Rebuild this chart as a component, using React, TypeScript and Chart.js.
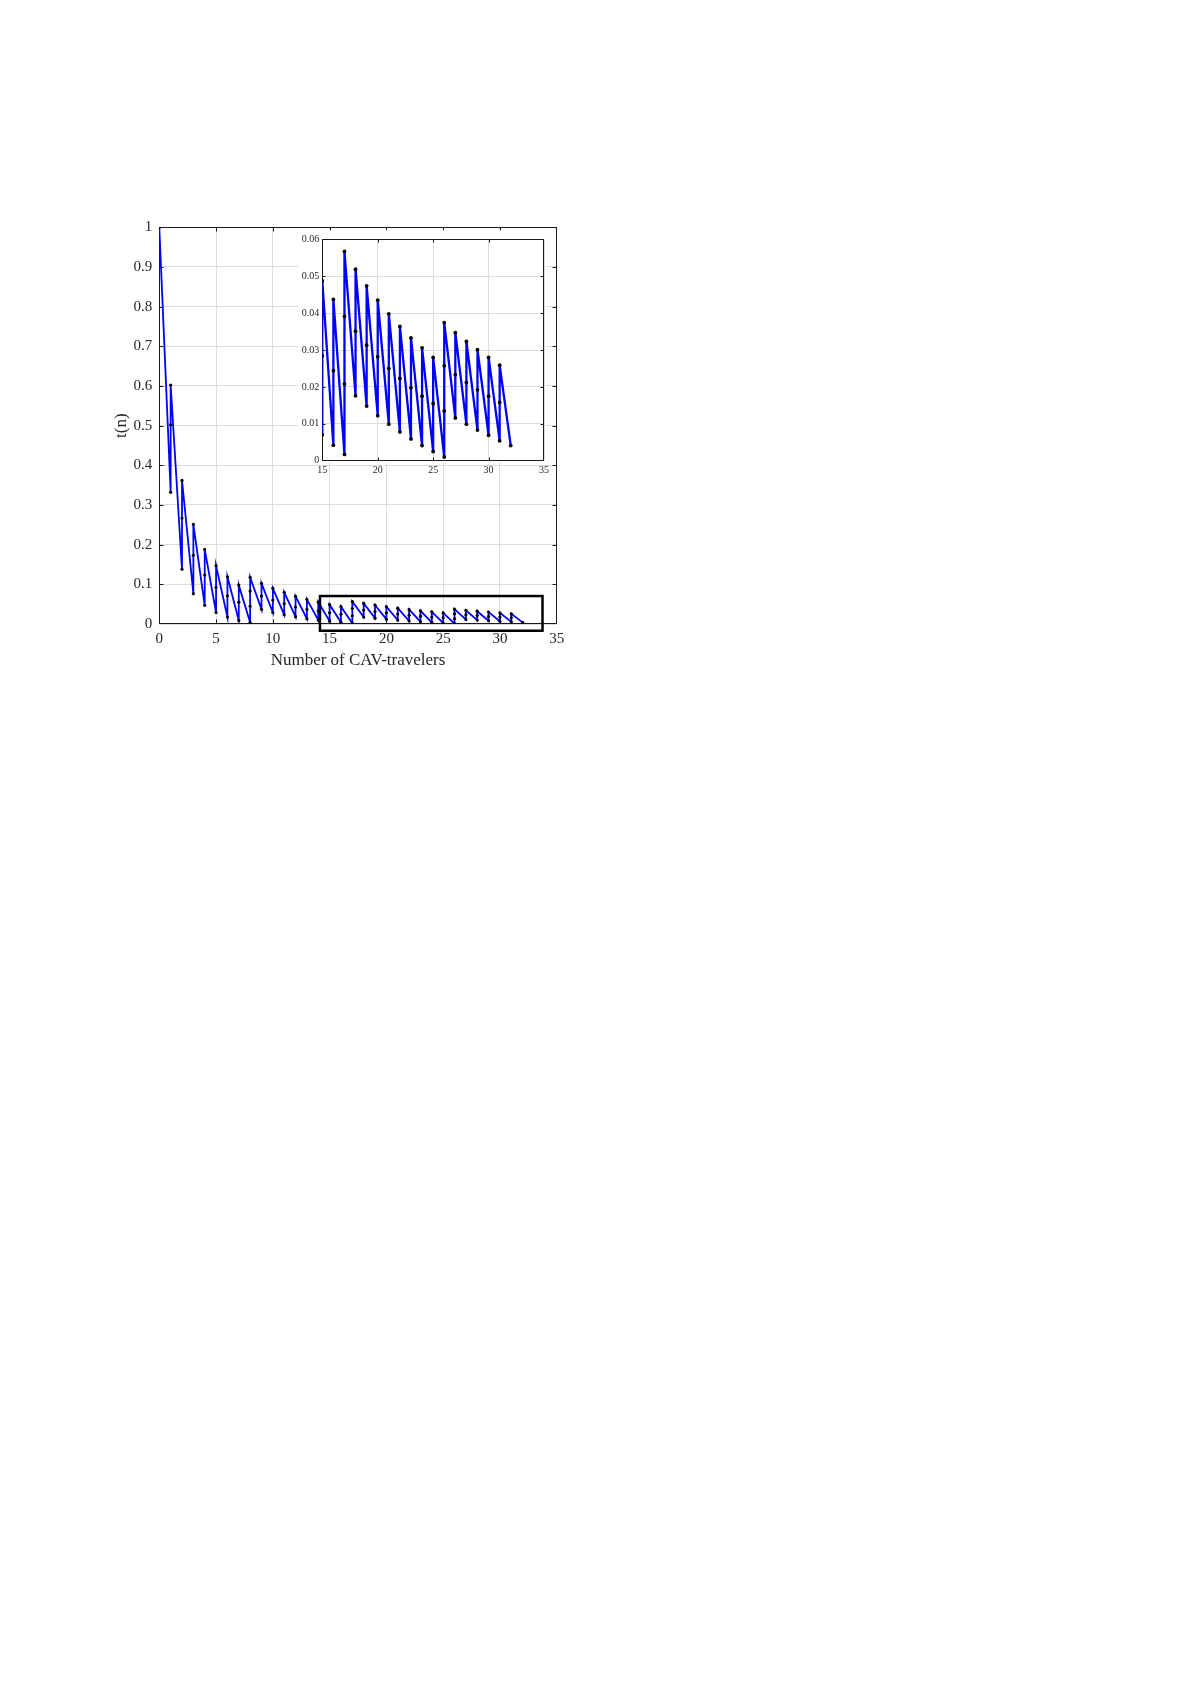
import React, { useEffect, useRef } from "react";
import { Chart, registerables } from "chart.js";

Chart.register(...registerables);

// each point of the step curve: n (number of CAV-travelers) and t(n)
const stepN = [
  0,
  1, 1, 1,
  2, 2, 2,
  3, 3, 3,
  4, 4, 4,
  5, 5, 5,
  6, 6, 6,
  7, 7, 7,
  8, 8, 8, 8,
  9, 9, 9,
  10, 10, 10,
  11, 11, 11,
  12, 12, 12,
  13, 13, 13,
  14, 14, 14,
  15, 15, 15,
  16, 16, 16,
  17, 17, 17, 17,
  18, 18, 18,
  19, 19, 19,
  20, 20, 20,
  21, 21, 21,
  22, 22, 22,
  23, 23, 23,
  24, 24, 24,
  25, 25, 25,
  26, 26, 26, 26,
  27, 27, 27,
  28, 28, 28,
  29, 29, 29,
  30, 30, 30,
  31, 31, 31,
  32,
];

const stepT = [
  1.0,
  0.332, 0.502, 0.6025,
  0.138, 0.267, 0.362,
  0.0765, 0.173, 0.251,
  0.047, 0.1235, 0.188,
  0.029, 0.0924, 0.147,
  0.0176, 0.071, 0.119,
  0.009, 0.055, 0.098,
  0.004, 0.045, 0.083, 0.1176,
  0.037, 0.0706, 0.1025,
  0.029, 0.0605, 0.09,
  0.0235, 0.0513, 0.08,
  0.0185, 0.0429, 0.0697,
  0.0134, 0.037, 0.062,
  0.01, 0.0325, 0.0553,
  0.007, 0.0284, 0.0487,
  0.0042, 0.0244, 0.0437,
  0.0017, 0.0208, 0.0391, 0.0567,
  0.0176, 0.0351, 0.0519,
  0.0148, 0.0313, 0.0474,
  0.0122, 0.0282, 0.0435,
  0.0099, 0.025, 0.0398,
  0.0078, 0.0223, 0.0364,
  0.0059, 0.0198, 0.0333,
  0.0041, 0.0175, 0.0306,
  0.0025, 0.0155, 0.028,
  0.001, 0.0135, 0.0257, 0.0374,
  0.0116, 0.0233, 0.0347,
  0.0099, 0.0212, 0.0323,
  0.0083, 0.0192, 0.0301,
  0.0069, 0.0175, 0.028,
  0.0054, 0.0158, 0.0259,
  0.0041,
];

// axis ranges [min, max, step]
const mainX = [0, 35, 5];
const mainY = [0, 1, 0.1];
const insetX = [15, 35, 5];
const insetY = [0, 0.06, 0.01];

// zoom box drawn on the main chart (data units)
const boxX = [14.15, 33.75];
const boxY = [-0.017, 0.0705];

const SERIF = "'Liberation Serif', 'Times New Roman', serif";
const TEXT = "#262626";
const GRID = "#dcdcdc";

const points = stepN.map((n, i) => ({ x: n, y: stepT[i] }));

const fmt = (v: any) => String(Number(Number(v).toFixed(3)));

// box around plot area plus inward tick marks, like matlab
const framePlugin = (tickLen: number) => ({
  id: "frame",
  beforeDatasetsDraw(chart: any) {
    const { ctx, chartArea: a, scales } = chart;
    const L = Math.round(a.left) + 0.5;
    const R = Math.round(a.right) - 0.5;
    const T = Math.round(a.top) + 0.5;
    const B = Math.round(a.bottom) - 0.5;
    const snapX = (v: number) => Math.min(R, Math.max(L, Math.round(v) + 0.5));
    const snapY = (v: number) => Math.min(B, Math.max(T, Math.round(v) + 0.5));
    ctx.save();
    ctx.strokeStyle = "#1a1a1a";
    ctx.lineWidth = 1;
    ctx.beginPath();
    scales.x.ticks.forEach((t: any) => {
      const px = snapX(scales.x.getPixelForValue(t.value));
      ctx.moveTo(px, B);
      ctx.lineTo(px, B - tickLen);
      ctx.moveTo(px, T);
      ctx.lineTo(px, T + tickLen);
    });
    scales.y.ticks.forEach((t: any) => {
      const py = snapY(scales.y.getPixelForValue(t.value));
      ctx.moveTo(L, py);
      ctx.lineTo(L + tickLen, py);
      ctx.moveTo(R, py);
      ctx.lineTo(R - tickLen, py);
    });
    ctx.stroke();
    ctx.strokeRect(L, T, R - L, B - T);
    ctx.restore();
  },
});

const boxPlugin = {
  id: "zoomBox",
  afterDraw(chart: any) {
    const { ctx, scales } = chart;
    const x0 = scales.x.getPixelForValue(boxX[0]);
    const x1 = scales.x.getPixelForValue(boxX[1]);
    const y0 = scales.y.getPixelForValue(boxY[1]);
    const y1 = scales.y.getPixelForValue(boxY[0]);
    ctx.save();
    ctx.strokeStyle = "#000";
    ctx.lineWidth = 2.5;
    ctx.strokeRect(x0, y0, x1 - x0, y1 - y0);
    ctx.restore();
  },
};

const whitePlugin = {
  id: "white",
  beforeDraw(chart: any) {
    const { ctx, chartArea: a } = chart;
    ctx.save();
    ctx.fillStyle = "#fff";
    ctx.fillRect(a.left - 24, a.top - 9, a.right - a.left + 26, a.bottom - a.top + 11);
    ctx.restore();
  },
};

const App: React.FC = () => {
  const mainRef = useRef<HTMLCanvasElement | null>(null);
  const insetRef = useRef<HTMLCanvasElement | null>(null);

  useEffect(() => {
    if (!mainRef.current || !insetRef.current) return;

    const main = new Chart(mainRef.current, {
      type: "line",
      data: {
        datasets: [
          {
            data: points,
            borderColor: "rgb(0, 0, 255)",
            borderWidth: 1.8,
            pointRadius: 1.6,
            pointBackgroundColor: "#000",
            pointBorderWidth: 0,
            tension: 0,
          },
        ],
      },
      options: {
        animation: false,
        responsive: false,
        layout: { padding: { top: 219.3, right: 51.3, left: 0, bottom: 0 } },
        plugins: { legend: { display: false }, tooltip: { enabled: false } },
        scales: {
          x: {
            type: "linear",
            min: mainX[0],
            max: mainX[1],
            afterFit: (s: any) => {
              s.height = 84;
            },
            grid: { color: GRID, drawTicks: false },
            border: { display: false },
            ticks: {
              stepSize: mainX[2],
              padding: 6,
              color: TEXT,
              font: { family: SERIF, size: 15 },
              callback: fmt,
            },
            title: {
              display: true,
              text: "Number of CAV-travelers",
              color: TEXT,
              font: { family: SERIF, size: 17 },
              padding: { top: 0, bottom: 37.1 },
            },
          },
          y: {
            min: mainY[0],
            max: mainY[1],
            afterFit: (s: any) => {
              s.width = 151.3;
            },
            grid: { color: GRID, drawTicks: false },
            border: { display: false },
            ticks: {
              stepSize: mainY[2],
              padding: 7,
              color: TEXT,
              font: { family: SERIF, size: 15 },
              callback: fmt,
            },
            title: {
              display: true,
              text: "t(n)",
              color: TEXT,
              font: { family: SERIF, size: 17 },
              padding: { top: 103.5, bottom: 0 },
            },
          },
        },
      },
      plugins: [framePlugin(4), boxPlugin],
    });

    const inset = new Chart(insetRef.current, {
      type: "line",
      data: {
        datasets: [
          {
            data: points,
            borderColor: "rgb(0, 0, 255)",
            borderWidth: 2.3,
            pointRadius: 1.9,
            pointBackgroundColor: "#000",
            pointBorderWidth: 0,
            tension: 0,
          },
        ],
      },
      options: {
        animation: false,
        responsive: false,
        layout: { padding: { top: 11.3, right: 11, left: 0, bottom: 0 } },
        plugins: { legend: { display: false }, tooltip: { enabled: false } },
        scales: {
          x: {
            type: "linear",
            min: insetX[0],
            max: insetX[1],
            afterFit: (s: any) => {
              s.height = 27.3;
            },
            grid: { color: GRID, drawTicks: false },
            border: { display: false },
            ticks: {
              stepSize: insetX[2],
              padding: 3.7,
              color: TEXT,
              font: { family: SERIF, size: 10 },
              callback: fmt,
            },
          },
          y: {
            min: insetY[0],
            max: insetY[1],
            afterFit: (s: any) => {
              s.width = 32.3;
            },
            grid: { color: GRID, drawTicks: false },
            border: { display: false },
            ticks: {
              stepSize: insetY[2],
              padding: 3,
              color: TEXT,
              font: { family: SERIF, size: 10 },
              callback: fmt,
            },
          },
        },
      },
      plugins: [whitePlugin, framePlugin(3)],
    });

    return () => {
      main.destroy();
      inset.destroy();
    };
  }, []);

  return (
    <div style={{ position: "relative", width: 600, height: 700 }}>
      <canvas
        ref={mainRef}
        width={600}
        height={700}
        style={{ position: "absolute", left: 0, top: 0 }}
      />
      <canvas
        ref={insetRef}
        width={265}
        height={260}
        style={{ position: "absolute", left: 282, top: 220 }}
      />
    </div>
  );
};

export default App;
